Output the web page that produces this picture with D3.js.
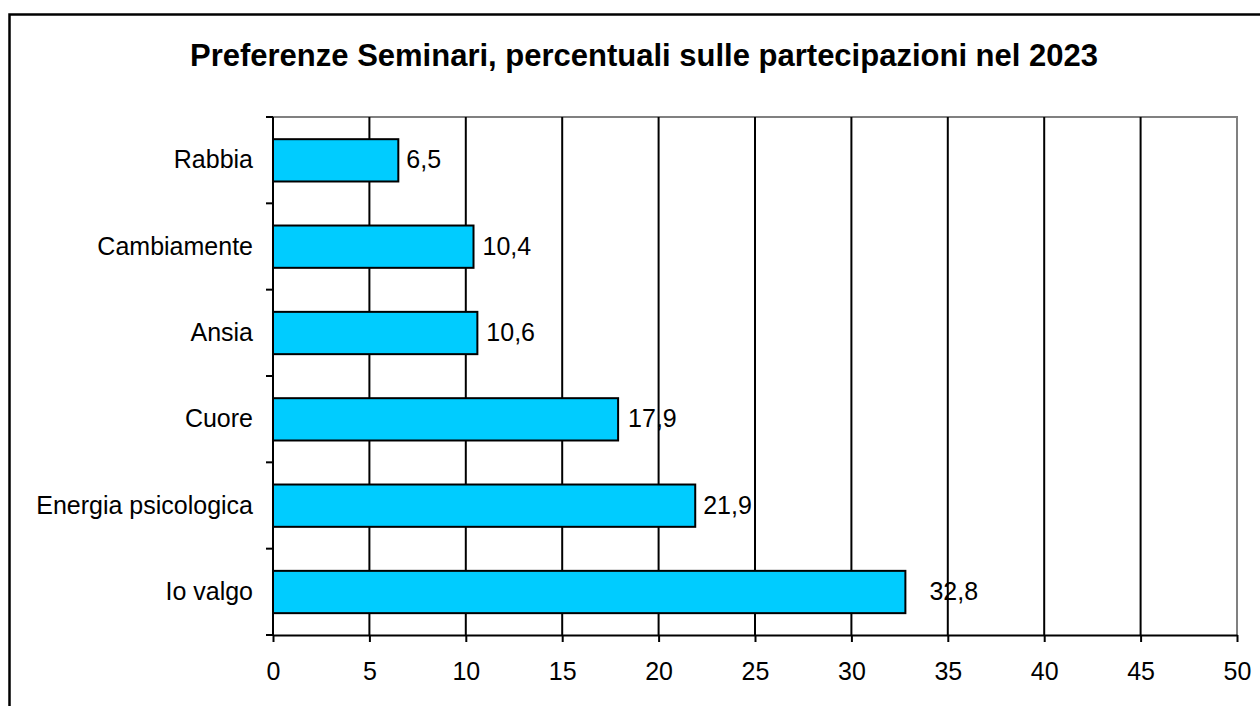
<!DOCTYPE html>
<html>
<head>
<meta charset="utf-8">
<script src="https://cdn.jsdelivr.net/npm/d3@7"></script>
<style>
  body { margin: 0; background: #fff; }
  svg { display: block; font-family: "Liberation Sans", Arial, sans-serif; }
</style>
</head>
<body>
<div id="chart"></div>
<script>
// Chart data (percentages)
const categories = ["Rabbia", "Cambiamente", "Ansia", "Cuore", "Energia psicologica", "Io valgo"];
const values = [6.5, 10.4, 10.6, 17.9, 21.9, 32.8];
const xTicks = [0, 5, 10, 15, 20, 25, 30, 35, 40, 45, 50];
const title = "Preferenze Seminari, percentuali sulle partecipazioni nel 2023";

// extra horizontal nudge of each value label (styling only)
const labelShift = [0, 1, 1, 2, 0, 16];

const W = 1260, H = 706;
const plot = { left: 273, right: 1237, top: 117, bottom: 635 };

const svg = d3.select("#chart").append("svg")
  .attr("width", W)
  .attr("height", H);

svg.append("rect").attr("width", W).attr("height", H).attr("fill", "#fff");

// outer chart border (runs off the right and bottom of the picture)
svg.append("rect")
  .attr("x", 9.5).attr("y", 14.5)
  .attr("width", 1300).attr("height", 800)
  .attr("fill", "none")
  .attr("stroke", "#000")
  .attr("stroke-width", 2.5);

// title
svg.append("text")
  .attr("x", 644)
  .attr("y", 66)
  .attr("text-anchor", "middle")
  .style("font-size", "31px")
  .style("font-weight", "bold")
  .text(title);

const x = d3.scaleLinear().domain([0, 50]).range([plot.left, plot.right]);
const y = d3.scaleBand().domain(categories).range([plot.top, plot.bottom]).padding(0);

// plot frame (gray top / right)
svg.append("path")
  .attr("d", `M${plot.left},${plot.top}H${plot.right}V${plot.bottom}`)
  .attr("fill", "none")
  .attr("stroke", "#808080")
  .attr("stroke-width", 2);

// vertical gridlines
svg.append("g").selectAll("line")
  .data(xTicks.filter(t => t > 0 && t < 50))
  .enter().append("line")
  .attr("x1", d => x(d)).attr("x2", d => x(d))
  .attr("y1", plot.top).attr("y2", plot.bottom)
  .attr("stroke", "#000")
  .attr("stroke-width", 2);

// bars
const bw = y.bandwidth();
svg.append("g").selectAll("rect")
  .data(categories)
  .enter().append("rect")
  .attr("x", x(0))
  .attr("y", d => y(d) + bw * 0.257)
  .attr("width", (d, i) => x(values[i]) - x(0))
  .attr("height", bw * 0.49)
  .attr("fill", "#00CCFF")
  .attr("stroke", "#000")
  .attr("stroke-width", 2);

// value labels
svg.append("g").selectAll("text")
  .data(categories)
  .enter().append("text")
  .attr("x", (d, i) => x(values[i]) + 8 + labelShift[i])
  .attr("y", d => y(d) + bw / 2)
  .attr("dy", "0.33em")
  .style("font-size", "25px")
  .text((d, i) => String(values[i]).replace(".", ","));

// x axis
const xAxis = d3.axisBottom(x)
  .tickValues(xTicks)
  .tickSize(7)
  .tickPadding(20)
  .tickSizeOuter(0)
  .tickFormat(d3.format("d"));

const gx = svg.append("g")
  .attr("transform", `translate(0,${plot.bottom})`)
  .call(xAxis);
gx.select(".domain").attr("stroke", "#000").attr("stroke-width", 2);
gx.selectAll(".tick line").attr("stroke", "#000").attr("stroke-width", 2);
gx.selectAll(".tick text")
  .attr("fill", "#000")
  .style("font-size", "25px")
  .style("font-family", "'Liberation Sans', Arial, sans-serif");

// y axis: labels centred in bands, ticks on category boundaries
const gy = svg.append("g").attr("transform", `translate(${plot.left},0)`);
gy.append("line")
  .attr("x1", 0).attr("x2", 0)
  .attr("y1", plot.top).attr("y2", plot.bottom)
  .attr("stroke", "#000").attr("stroke-width", 2);
const bounds = categories.map(c => y(c)).concat([plot.bottom]);
gy.selectAll(".ytick")
  .data(bounds)
  .enter().append("line")
  .attr("class", "ytick")
  .attr("x1", -7).attr("x2", 0)
  .attr("y1", d => d).attr("y2", d => d)
  .attr("stroke", "#000").attr("stroke-width", 2);
gy.selectAll(".ylabel")
  .data(categories)
  .enter().append("text")
  .attr("class", "ylabel")
  .attr("x", -20)
  .attr("y", d => y(d) + bw / 2)
  .attr("dy", "0.33em")
  .attr("text-anchor", "end")
  .style("font-size", "25px")
  .text(d => d);
</script>
</body>
</html>
